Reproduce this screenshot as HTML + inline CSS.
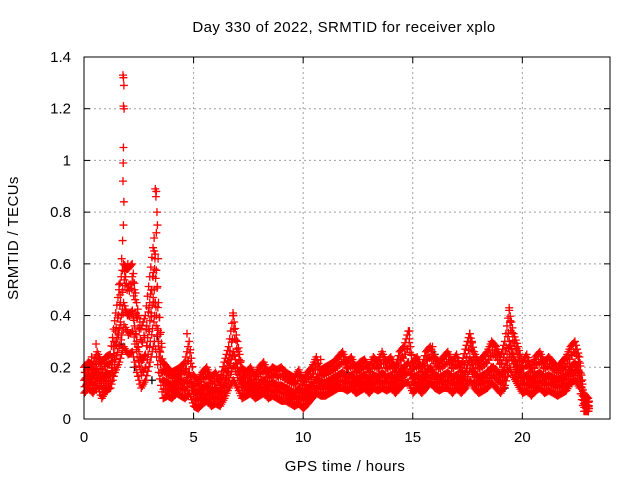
<!DOCTYPE html>
<html><head><meta charset="utf-8"><style>
body{margin:0;background:#fff}
svg{display:block;font-family:"Liberation Sans",sans-serif}
</style></head><body>
<svg id="c" width="640" height="480">
<rect width="640" height="480" fill="#fff"/>
<text x="344" y="32" font-size="15" letter-spacing="0.4" text-anchor="middle">Day 330 of 2022, SRMTID for receiver xplo</text>
<text x="345" y="471" font-size="15" letter-spacing="0.4" text-anchor="middle">GPS time / hours</text>
<text transform="translate(18,238) rotate(-90)" font-size="15" letter-spacing="0.4" text-anchor="middle">SRMTID / TECUs</text>
<g id="grid"></g><g id="marks"></g><g id="axes"></g>
</svg>
<script>
const xTicks=[0,5,10,15,20];
const yTicks=[0,0.2,0.4,0.6,0.8,1,1.2,1.4];
const yTickLabels=["0","0.2","0.4","0.6","0.8","1","1.2","1.4"];
const times=[0,0.2,0.4,0.6,0.8,1,1.2,1.4,1.6,1.8,2,2.2,2.4,2.6,2.8,3,3.2,3.4,3.6,3.8,4,4.2,4.4,4.6,4.8,5,5.2,5.4,5.6,5.8,6,6.2,6.4,6.6,6.8,7,7.2,7.4,7.6,7.8,8,8.2,8.4,8.6,8.8,9,9.2,9.4,9.6,9.8,10,10.2,10.4,10.6,10.8,11,11.2,11.4,11.6,11.8,12,12.2,12.4,12.6,12.8,13,13.2,13.4,13.6,13.8,14,14.2,14.4,14.6,14.8,15,15.2,15.4,15.6,15.8,16,16.2,16.4,16.6,16.8,17,17.2,17.4,17.6,17.8,18,18.2,18.4,18.6,18.8,19,19.2,19.4,19.6,19.8,20,20.2,20.4,20.6,20.8,21,21.2,21.4,21.6,21.8,22,22.2,22.4,22.6,22.8,23];
const hiVals=[0.2,0.22,0.21,0.26,0.22,0.24,0.25,0.38,0.5,0.6,0.58,0.6,0.45,0.35,0.4,0.55,0.7,0.45,0.22,0.2,0.18,0.19,0.2,0.22,0.3,0.17,0.15,0.18,0.2,0.16,0.18,0.15,0.22,0.28,0.4,0.3,0.2,0.18,0.2,0.17,0.2,0.22,0.18,0.2,0.19,0.2,0.18,0.17,0.16,0.19,0.15,0.18,0.2,0.24,0.19,0.2,0.21,0.22,0.24,0.26,0.22,0.24,0.2,0.22,0.23,0.2,0.24,0.22,0.26,0.22,0.24,0.2,0.26,0.28,0.34,0.22,0.24,0.2,0.26,0.28,0.24,0.22,0.24,0.26,0.22,0.25,0.2,0.27,0.33,0.26,0.22,0.24,0.26,0.3,0.28,0.24,0.3,0.42,0.33,0.28,0.22,0.25,0.2,0.24,0.26,0.22,0.24,0.22,0.2,0.22,0.24,0.28,0.3,0.24,0.1,0.08];
const midVals=[0.15,0.17,0.16,0.19,0.15,0.18,0.17,0.28,0.35,0.45,0.4,0.42,0.3,0.22,0.25,0.38,0.5,0.3,0.15,0.14,0.13,0.14,0.15,0.14,0.18,0.11,0.1,0.12,0.13,0.1,0.12,0.1,0.14,0.2,0.26,0.2,0.14,0.13,0.15,0.12,0.14,0.15,0.13,0.14,0.13,0.13,0.12,0.11,0.1,0.12,0.1,0.12,0.13,0.16,0.14,0.14,0.15,0.16,0.17,0.18,0.16,0.17,0.15,0.16,0.17,0.15,0.17,0.16,0.18,0.16,0.17,0.15,0.18,0.2,0.22,0.16,0.17,0.15,0.18,0.2,0.17,0.16,0.17,0.18,0.16,0.17,0.15,0.18,0.24,0.18,0.16,0.17,0.18,0.2,0.19,0.17,0.2,0.3,0.24,0.2,0.16,0.17,0.15,0.17,0.18,0.16,0.17,0.16,0.15,0.16,0.17,0.2,0.22,0.18,0.06,0.05];
const loVals=[0.1,0.12,0.1,0.13,0.08,0.11,0.12,0.18,0.22,0.28,0.25,0.26,0.18,0.12,0.15,0.22,0.3,0.18,0.08,0.09,0.08,0.1,0.09,0.08,0.1,0.05,0.04,0.06,0.07,0.05,0.06,0.05,0.08,0.12,0.15,0.12,0.08,0.09,0.1,0.08,0.09,0.1,0.08,0.09,0.08,0.07,0.07,0.06,0.05,0.06,0.04,0.06,0.08,0.1,0.09,0.09,0.1,0.11,0.12,0.12,0.11,0.12,0.1,0.11,0.12,0.1,0.12,0.11,0.12,0.11,0.12,0.1,0.12,0.14,0.14,0.1,0.12,0.1,0.12,0.14,0.12,0.11,0.12,0.12,0.1,0.12,0.1,0.12,0.15,0.12,0.1,0.11,0.12,0.14,0.12,0.1,0.13,0.2,0.16,0.13,0.1,0.11,0.09,0.11,0.12,0.1,0.11,0.1,0.09,0.1,0.11,0.14,0.15,0.12,0.03,0.03];
const peakTimes=[1.78,1.8,1.82,1.8,1.83,1.8,1.79,1.78,1.82,1.8,1.76,1.72,1.85,1.9,1.95,2.0,2.05,3.2,3.25,3.3,3.28,3.33,3.35,3.3,3.22,3.38,3.15,6.8,6.82,4.7,0.55,0.35,19.4,19.45,14.85,17.6,17.7,10.8,15.9,1.6,1.65,2.2,2.3,2.4,3.1,3.0];
const peakVals=[1.33,1.32,1.29,1.21,1.2,1.05,0.99,0.92,0.84,0.75,0.69,0.62,0.57,0.55,0.58,0.6,0.52,0.65,0.89,0.88,0.86,0.8,0.75,0.72,0.58,0.62,0.55,0.41,0.4,0.33,0.29,0.24,0.43,0.38,0.34,0.33,0.3,0.23,0.28,0.52,0.48,0.55,0.5,0.4,0.5,0.45];
const blackTimes=[0.5,1.0,1.7,2.3,3.1,3.35,4.2,5.5,7.3,9.8,12.0,13.5,16.0,18.2,19.2,21.0,22.2];
const blackVals=[0.18,0.12,0.29,0.2,0.15,0.32,0.12,0.08,0.16,0.1,0.18,0.14,0.25,0.15,0.12,0.16,0.19];

const L=84,R=610,T=57,B=419;
const xs=v=>L+(v/24)*(R-L);
const ys=v=>B-(v/1.4)*(B-T);
const NS="http://www.w3.org/2000/svg";
function mk(tag,parent,attrs){const e=document.createElementNS(NS,tag);for(const k in attrs)e.setAttribute(k,attrs[k]);parent.appendChild(e);return e;}
const grid=document.getElementById('grid'),marks=document.getElementById('marks'),axes=document.getElementById('axes');
xTicks.forEach(t=>{
  const x=xs(t);
  if(t>0){const g=mk('line',grid,{x1:x,x2:x,y1:T,y2:B,stroke:'#a0a0a0','stroke-dasharray':'2,3'});
  
  }
  mk('line',axes,{x1:x,x2:x,y1:B,y2:B-6,stroke:'#000'});
  mk('line',axes,{x1:x,x2:x,y1:T,y2:T+6,stroke:'#000'});
  const tx=mk('text',axes,{x:x,y:B+23,'font-size':15,'text-anchor':'middle'});
  tx.textContent=String(t);
  
  
});
yTicks.forEach((t,i)=>{
  const y=ys(t);
  if(i>0&&i<yTicks.length-1){const g=mk('line',grid,{x1:L,x2:R,y1:y,y2:y,stroke:'#a0a0a0','stroke-dasharray':'2,3'});
  
  }
  mk('line',axes,{x1:L,x2:L+6,y1:y,y2:y,stroke:'#000'});
  mk('line',axes,{x1:R,x2:R-6,y1:y,y2:y,stroke:'#000'});
  const tx=mk('text',axes,{x:L-13,y:y+5,'font-size':15,'text-anchor':'end'});
  tx.textContent=yTickLabels[i];
  
  
});
const frame=mk('rect',axes,{x:L,y:T,width:R-L,height:B-T,fill:'none',stroke:'#000'});


function plus(t,v,col){
  const x=xs(t),y=ys(v);
  const p=mk('path',marks,{d:`M${x-4},${y}h8M${x},${y-4}v8`,stroke:col,'stroke-width':1.3,fill:'none'});
  
  
}
blackTimes.forEach((t,i)=>plus(t,blackVals[i],'#000'));
const mixes=[[1,0,0],[0,1,0],[0,0,1],[0.5,0.5,0],[0,0.5,0.5],[0.3,0.3,0.4],[0.7,0.2,0.1],[0.1,0.3,0.6]];
for(let i=0;i<times.length;i++){
  const j=Math.min(i+1,times.length-1);
  for(let k=0;k<4;k++){
    const f=k/4;
    const h=hiVals[i]*(1-f)+hiVals[j]*f, m=midVals[i]*(1-f)+midVals[j]*f, l=loVals[i]*(1-f)+loVals[j]*f;
    const t=times[i]+(times[j]-times[i])*f;
    mixes.forEach((w,q)=>{
      if((q+k)%2===0||q<3) plus(t+q*0.006,w[0]*h+w[1]*m+w[2]*l,'#f00');
    });
  }
}
peakTimes.forEach((t,i)=>plus(t,peakVals[i],'#f00'));
</script>
</body></html>
